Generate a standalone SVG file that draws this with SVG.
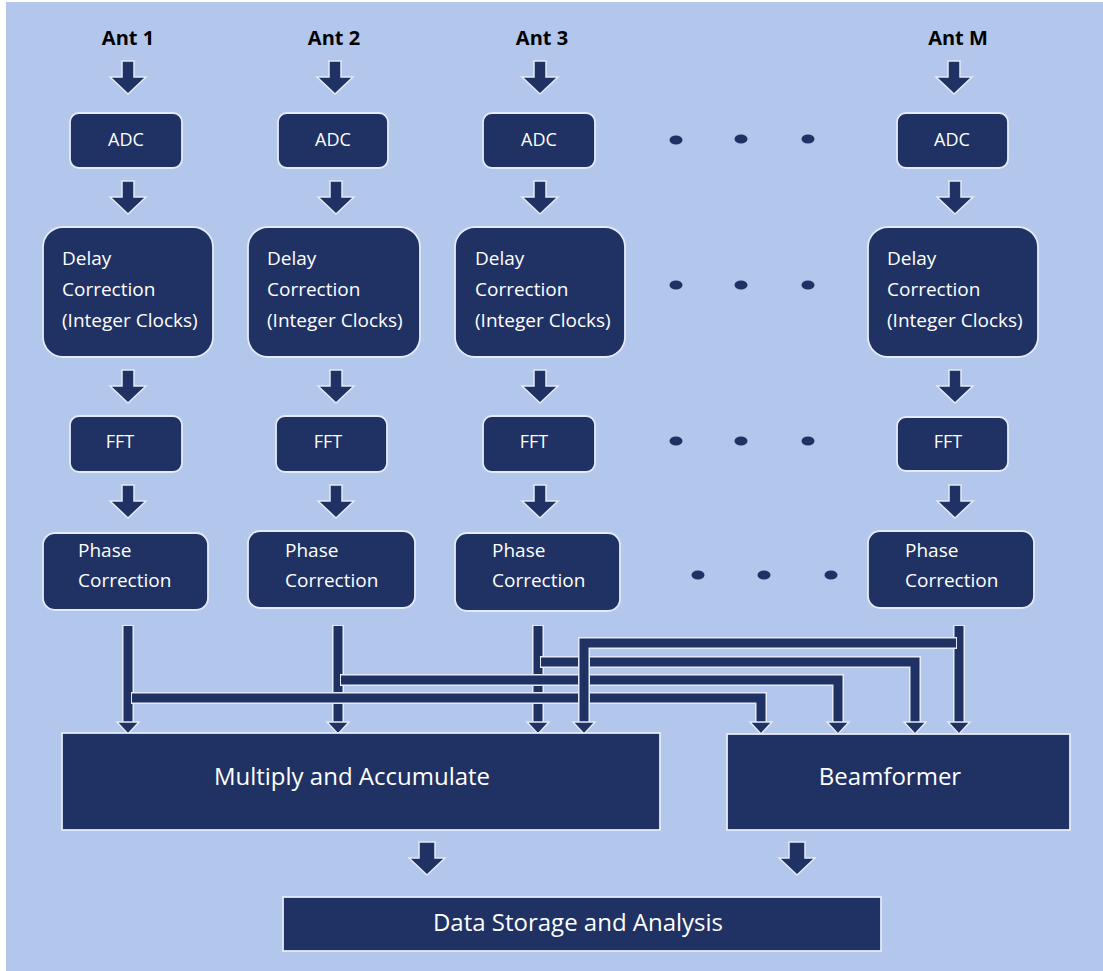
<svg xmlns="http://www.w3.org/2000/svg" xmlns:xlink="http://www.w3.org/1999/xlink" width="1103" height="971" viewBox="0 0 1103 971">
  <style>
    .node { fill: #1F3263; stroke: #E4EAF7; stroke-width: 1.8; }
    .lbl { fill: #FFFFFF; font-family: "Open Sans", "Noto Sans", sans-serif; font-size: 19px; }
    .sm { font-size: 18px; }
    .big { font-size: 24px; }
    .ant { fill: #000000; font-family: "Open Sans", "Noto Sans", sans-serif; font-size: 20px; font-weight: bold; text-anchor: middle; }
    .mid { text-anchor: middle; }
    .blk { fill: #1F3263; stroke: #E4EAF7; stroke-width: 1.5; stroke-linejoin: miter; }
    .wire-o { fill: none; stroke: #E4EAF7; stroke-width: 12; stroke-linejoin: miter; stroke-linecap: butt; }
    .wire { fill: none; stroke: #1F3263; stroke-width: 9; stroke-linejoin: miter; stroke-linecap: butt; }
    .head { fill: #1F3263; stroke: #E4EAF7; stroke-width: 1.5; }
    .dot { fill: #1F3263; }
  </style>
  <defs>
    <path id="blk" d="M-6,0 H6 V16 H18 L0,33 L-18,16 H-6 Z"/>
    <path id="blk2" d="M-8,0 H8 V16 H18 L0,33 L-18,16 H-8 Z"/>
    <path id="tip" d="M-11,0 H11 L0,12 Z"/>
  </defs>

  <!-- page -->
  <rect x="0" y="0" width="1103" height="971" fill="#FFFFFF"/>
  <rect x="6" y="2" width="1097" height="969" fill="#B3C6EB"/>

  <!-- antenna labels -->
  <text class="ant" x="128" y="45">Ant 1</text>
  <text class="ant" x="334" y="45">Ant 2</text>
  <text class="ant" x="542" y="45">Ant 3</text>
  <text class="ant" x="958" y="45">Ant M</text>

  <!-- stage arrows -->
  <g id="stage-arrows">
    <use xlink:href="#blk" class="blk" x="128" y="61"/>
    <use xlink:href="#blk" class="blk" x="335" y="61"/>
    <use xlink:href="#blk" class="blk" x="540" y="61"/>
    <use xlink:href="#blk" class="blk" x="954" y="61"/>

    <use xlink:href="#blk" class="blk" x="128" y="181"/>
    <use xlink:href="#blk" class="blk" x="336" y="181"/>
    <use xlink:href="#blk" class="blk" x="540" y="181"/>
    <use xlink:href="#blk" class="blk" x="955" y="181"/>

    <use xlink:href="#blk" class="blk" x="128" y="370"/>
    <use xlink:href="#blk" class="blk" x="336" y="370"/>
    <use xlink:href="#blk" class="blk" x="540" y="370"/>
    <use xlink:href="#blk" class="blk" x="955" y="370"/>

    <use xlink:href="#blk" class="blk" x="128" y="485"/>
    <use xlink:href="#blk" class="blk" x="336" y="485"/>
    <use xlink:href="#blk" class="blk" x="540" y="485"/>
    <use xlink:href="#blk" class="blk" x="955" y="485"/>

    <use xlink:href="#blk2" class="blk" x="427" y="842"/>
    <use xlink:href="#blk2" class="blk" x="797" y="842"/>
  </g>

  <!-- column 1 -->
  <g id="adc-1"><rect class="node" x="70" y="113" width="112" height="55" rx="9"/><text class="lbl sm mid" x="126" y="146">ADC</text></g>
  <g id="delay-1"><rect class="node" x="43" y="227" width="170" height="130" rx="20"/>
    <text class="lbl" x="62" y="265">Delay</text><text class="lbl" x="62" y="296">Correction</text><text class="lbl" x="62" y="327">(Integer Clocks)</text></g>
  <g id="fft-1"><rect class="node" x="70" y="416" width="112" height="56" rx="9"/><text class="lbl sm mid" x="120" y="448">FFT</text></g>
  <g id="phase-1"><rect class="node" x="43" y="533" width="165" height="77" rx="12"/>
    <text class="lbl" x="78" y="557">Phase</text><text class="lbl" x="78" y="587">Correction</text></g>

  <!-- column 2 -->
  <g id="adc-2"><rect class="node" x="278" y="113" width="110" height="55" rx="9"/><text class="lbl sm mid" x="333" y="146">ADC</text></g>
  <g id="delay-2"><rect class="node" x="248" y="227" width="172" height="130" rx="20"/>
    <text class="lbl" x="267" y="265">Delay</text><text class="lbl" x="267" y="296">Correction</text><text class="lbl" x="267" y="327">(Integer Clocks)</text></g>
  <g id="fft-2"><rect class="node" x="276" y="416" width="111" height="56" rx="9"/><text class="lbl sm mid" x="328" y="448">FFT</text></g>
  <g id="phase-2"><rect class="node" x="248" y="531" width="167" height="77" rx="12"/>
    <text class="lbl" x="285" y="557">Phase</text><text class="lbl" x="285" y="587">Correction</text></g>

  <!-- column 3 -->
  <g id="adc-3"><rect class="node" x="483" y="113" width="112" height="55" rx="9"/><text class="lbl sm mid" x="539" y="146">ADC</text></g>
  <g id="delay-3"><rect class="node" x="455" y="227" width="170" height="130" rx="20"/>
    <text class="lbl" x="475" y="265">Delay</text><text class="lbl" x="475" y="296">Correction</text><text class="lbl" x="475" y="327">(Integer Clocks)</text></g>
  <g id="fft-3"><rect class="node" x="483" y="416" width="112" height="56" rx="9"/><text class="lbl sm mid" x="534" y="448">FFT</text></g>
  <g id="phase-3"><rect class="node" x="455" y="533" width="165" height="78" rx="12"/>
    <text class="lbl" x="492" y="557">Phase</text><text class="lbl" x="492" y="587">Correction</text></g>

  <!-- column M -->
  <g id="adc-m"><rect class="node" x="897" y="113" width="111" height="55" rx="9"/><text class="lbl sm mid" x="952" y="146">ADC</text></g>
  <g id="delay-m"><rect class="node" x="868" y="227" width="170" height="130" rx="20"/>
    <text class="lbl" x="887" y="265">Delay</text><text class="lbl" x="887" y="296">Correction</text><text class="lbl" x="887" y="327">(Integer Clocks)</text></g>
  <g id="fft-m"><rect class="node" x="897" y="417" width="111" height="54" rx="9"/><text class="lbl sm mid" x="948" y="448">FFT</text></g>
  <g id="phase-m"><rect class="node" x="868" y="531" width="166" height="77" rx="12"/>
    <text class="lbl" x="905" y="557">Phase</text><text class="lbl" x="905" y="587">Correction</text></g>

  <!-- ellipsis dots for the omitted antennas -->
  <g id="ellipsis">
    <ellipse class="dot" cx="676" cy="140" rx="6.5" ry="4.5"/>
    <ellipse class="dot" cx="741" cy="139" rx="6.5" ry="4.5"/>
    <ellipse class="dot" cx="808" cy="139" rx="6.5" ry="4.5"/>
    <ellipse class="dot" cx="676" cy="285" rx="6.5" ry="4.5"/>
    <ellipse class="dot" cx="741" cy="285" rx="6.5" ry="4.5"/>
    <ellipse class="dot" cx="808" cy="285" rx="6.5" ry="4.5"/>
    <ellipse class="dot" cx="676" cy="441" rx="6.5" ry="4.5"/>
    <ellipse class="dot" cx="741" cy="441" rx="6.5" ry="4.5"/>
    <ellipse class="dot" cx="808" cy="441" rx="6.5" ry="4.5"/>
    <ellipse class="dot" cx="698" cy="575" rx="6.5" ry="4.5"/>
    <ellipse class="dot" cx="764" cy="575" rx="6.5" ry="4.5"/>
    <ellipse class="dot" cx="831" cy="575" rx="6.5" ry="4.5"/>
  </g>

  <!-- connectors from phase correction to MAC and beamformer -->
  <g id="connectors">
    <!-- straight drops -->
    <path class="wire-o" d="M128,625 V723"/><path class="wire" d="M128,626 V723"/><use xlink:href="#tip" class="head" x="128" y="722"/>
    <path class="wire-o" d="M338,625 V723"/><path class="wire" d="M338,626 V723"/><use xlink:href="#tip" class="head" x="338" y="722"/>
    <path class="wire-o" d="M538,625 V723"/><path class="wire" d="M538,626 V723"/><use xlink:href="#tip" class="head" x="538" y="722"/>
    <path class="wire-o" d="M959,625 V723"/><path class="wire" d="M959,626 V723"/><use xlink:href="#tip" class="head" x="959" y="722"/>

    <!-- branches to the beamformer -->
    <path class="wire-o" d="M131,698 H761 V723"/><path class="wire" d="M132,698 H761 V723"/><use xlink:href="#tip" class="head" x="761" y="722"/>
    <path class="wire-o" d="M340,680 H838 V723"/><path class="wire" d="M341,680 H838 V723"/><use xlink:href="#tip" class="head" x="838" y="722"/>
    <path class="wire-o" d="M540,662 H915 V723"/><path class="wire" d="M541,662 H915 V723"/><use xlink:href="#tip" class="head" x="915" y="722"/>

    <!-- branch from antenna M to the MAC -->
    <path class="wire-o" d="M957,643 H584 V723"/><path class="wire" d="M956,643 H584 V723"/><use xlink:href="#tip" class="head" x="584" y="722"/>
  </g>

  <!-- back end -->
  <g id="mac"><rect class="node" x="62" y="733" width="598" height="97"/><text class="lbl big mid" x="352" y="785">Multiply and Accumulate</text></g>
  <g id="beamformer"><rect class="node" x="727" y="734" width="343" height="96"/><text class="lbl big mid" x="890" y="785">Beamformer</text></g>
  <g id="storage"><rect class="node" x="283" y="897" width="598" height="54"/><text class="lbl big mid" x="578" y="931">Data Storage and Analysis</text></g>
</svg>
